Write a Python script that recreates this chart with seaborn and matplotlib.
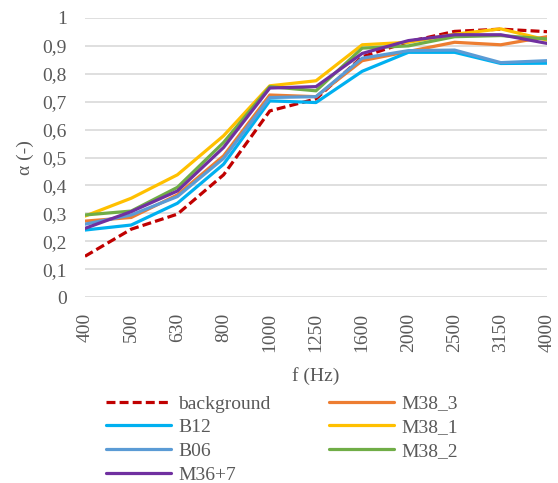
"""
Coeficiente de absorción alfa por banda de frecuencia para varias muestras.
"""

import pandas as pd
import matplotlib
matplotlib.use("Agg")
import matplotlib.pyplot as plt
import seaborn as sns

freqs = ["400", "500", "630", "800", "1000", "1250", "1600", "2000", "2500", "3150", "4000"]

background = [0.146, 0.243, 0.297, 0.438, 0.667, 0.71, 0.861, 0.915, 0.952, 0.96, 0.951]
m38_3 = [0.272, 0.285, 0.366, 0.506, 0.724, 0.718, 0.847, 0.88, 0.913, 0.904, 0.933]
b12 = [0.24, 0.258, 0.336, 0.476, 0.703, 0.697, 0.809, 0.877, 0.877, 0.837, 0.838]
m38_1 = [0.29, 0.354, 0.438, 0.578, 0.757, 0.775, 0.904, 0.913, 0.942, 0.961, 0.921]
b06 = [0.261, 0.294, 0.36, 0.497, 0.715, 0.718, 0.856, 0.883, 0.885, 0.84, 0.847]
m38_2 = [0.294, 0.308, 0.393, 0.554, 0.754, 0.739, 0.892, 0.9, 0.933, 0.937, 0.925]
m36_7 = [0.246, 0.306, 0.38, 0.536, 0.749, 0.754, 0.873, 0.919, 0.94, 0.94, 0.909]

series = {
    "background": background,
    "M38_3": m38_3,
    "B12": b12,
    "M38_1": m38_1,
    "B06": b06,
    "M38_2": m38_2,
    "M36+7": m36_7,
}
colors = {
    "background": "#C00000",
    "M38_3": "#ED7D31",
    "B12": "#00B0F0",
    "M38_1": "#FFC000",
    "B06": "#5B9BD5",
    "M38_2": "#70AD47",
    "M36+7": "#7030A0",
}

rows = []
for name, vals in series.items():
    for f, v in zip(freqs, vals):
        rows.append({"f": f, "alpha": v, "muestra": name})
df = pd.DataFrame(rows)

sns.set_style("white")
plt.rcParams["font.family"] = ["Liberation Serif", "DejaVu Serif"]
text_col = "#595959"

fig = plt.figure(figsize=(5.58, 4.83), dpi=100)
ax = fig.add_axes([85 / 558, 1 - 297 / 483, 462 / 558, 279 / 483])

for name in series:
    sub = df[df["muestra"] == name]
    sns.lineplot(
        data=sub, x="f", y="alpha", ax=ax, color=colors[name], label=name,
        linewidth=2.3, linestyle=(0, (2.8, 1.3)) if name == "background" else "-",
        sort=False,
    )

ax.set_xlim(0, len(freqs) - 1)
ax.set_ylim(0, 1)
ax.set_yticks([i / 10 for i in range(11)])
ax.set_yticklabels(["0"] + [f"0,{i}" for i in range(1, 10)] + ["1"])
ax.grid(axis="y", color="#D9D9D9", linewidth=1.2)
ax.grid(axis="x", visible=False)
ax.set_axisbelow(True)
for s in ax.spines.values():
    s.set_visible(False)
ax.tick_params(axis="both", labelsize=14, labelcolor=text_col, length=0)
ax.tick_params(axis="x", rotation=90, pad=11.5)
ax.tick_params(axis="y", pad=13)
ax.set_xlabel("f (Hz)", fontsize=14, color=text_col, labelpad=11)
ax.set_ylabel("α (-)", fontsize=14, color=text_col, labelpad=6)

ax.get_legend().remove()
handles, labels = ax.get_legend_handles_labels()
order = ["background", "B12", "B06", "M36+7", "M38_3", "M38_1", "M38_2"]
hmap = dict(zip(labels, handles))
fig.legend(
    [hmap[k] for k in order], order, loc="upper left",
    bbox_to_anchor=(106 / 558, 1 - 395 / 483), ncol=2, frameon=False,
    fontsize=14, labelcolor=text_col, handlelength=3.35, handletextpad=0.36,
    columnspacing=3.0, labelspacing=0.31, borderpad=0, borderaxespad=0,
)

fig.savefig("out.png", dpi=100)
